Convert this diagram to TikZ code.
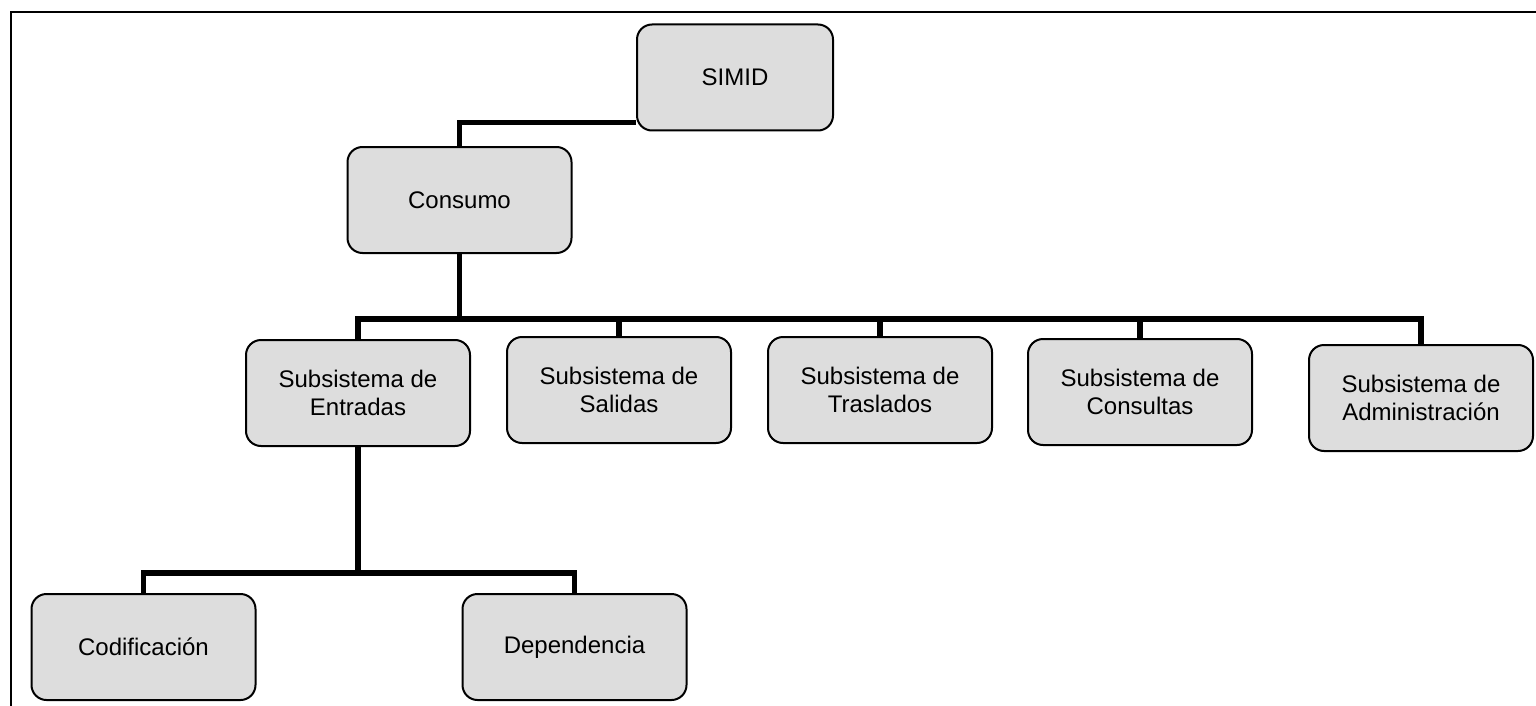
\documentclass[tikz,border=0pt]{standalone}
\usepackage{fontspec}
\setmainfont{Liberation Sans}
\begin{document}
\begin{tikzpicture}[x=0.5pt,y=-0.5pt,
        caja/.style={draw=black,line width=1pt,fill=gris,rounded corners=7.5pt,
            minimum width=112pt,minimum height=53pt,align=center,
            font=\fontsize{12}{14}\selectfont},
        conector/.style={line width=2.6pt}]
        %colores
        \definecolor{gris}{RGB}{221,221,221}
        \useasboundingbox (0,0) rectangle (1536,706);
        % marco
        \draw[line width=1pt] (1540,12) -- (11,12) -- (11,710);

        % nodos
        \node[caja,minimum width=98pt] (simid) at (735,77.5) {SIMID};
        \node[caja] (consumo) at (459.5,200) {Consumo};
        \node[caja] (entradas) at (358,393) {Subsistema de\\Entradas};
        \node[caja] (salidas) at (619,390) {Subsistema de\\Salidas};
        \node[caja] (traslados) at (880,390) {Subsistema de\\Traslados};
        \node[caja] (consultas) at (1140,392) {Subsistema de\\Consultas};
        \node[caja] (admin) at (1421,398) {Subsistema de\\Administración};
        \node[caja] (codif) at (143.5,647) {Codificación};
        \node[caja] (depend) at (574.5,647) {Dependencia};

        % lineas
        \coordinate (bus1) at (459,319);
        \coordinate (bus2) at (358,573);
        \draw[conector] ([yshift=4.5pt]simid.south west) -| (consumo.north);
        \foreach \n in {entradas,salidas,traslados,consultas,admin}
        \draw[conector] (consumo.south) -- (consumo |- bus1) -| (\n.north);
        \foreach \n in {codif,depend}
        \draw[conector] (entradas.south) -- (entradas |- bus2) -| (\n.north);
\end{tikzpicture}
\end{document}
